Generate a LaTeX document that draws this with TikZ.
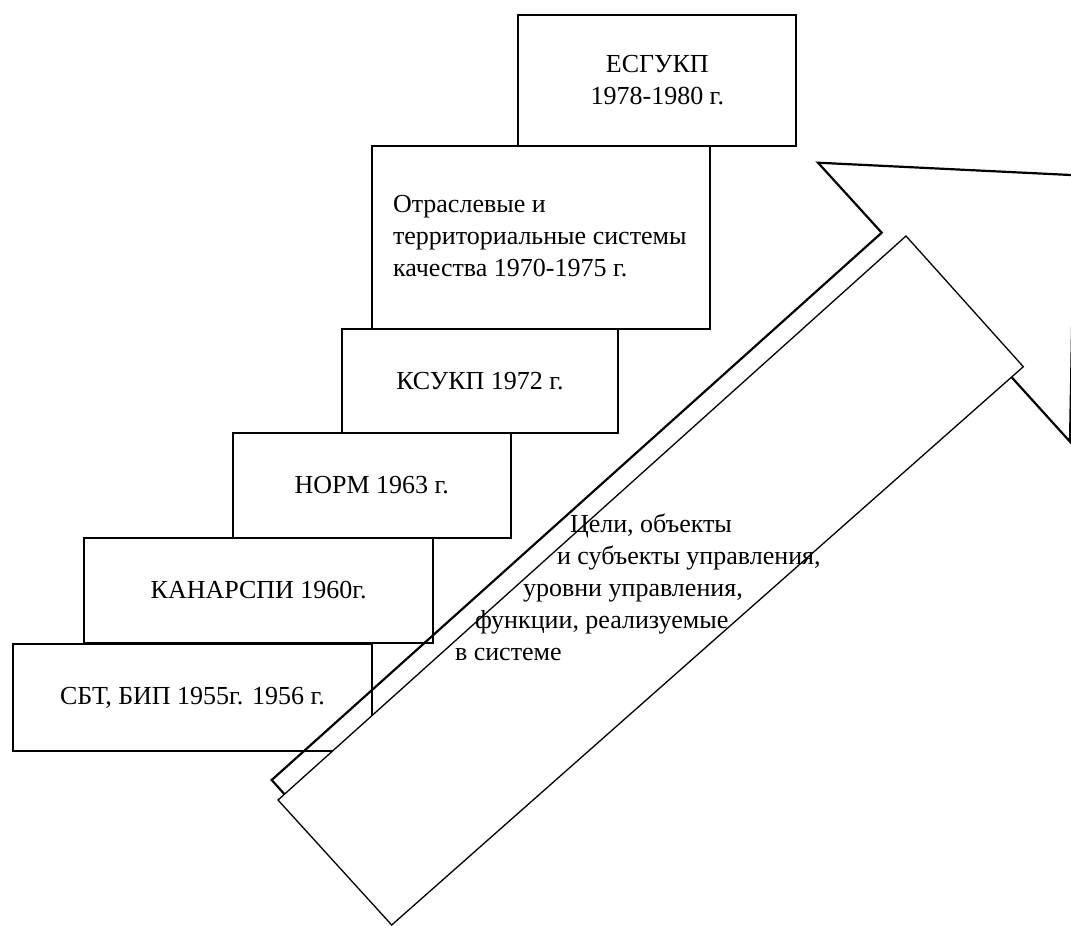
\documentclass[tikz,border=0pt]{standalone}
\usepackage{fontspec}
\setmainfont{Liberation Serif}
\newcommand{\diagfont}{\fontsize{26}{32}\selectfont}
\begin{document}
\begin{tikzpicture}[x=1pt,y=-1pt,
  stair/.style={draw=black, line width=1.9pt, inner sep=0pt, outer sep=0pt, anchor=north west, font=\diagfont, align=center},
  txt/.style={inner sep=0pt, outer sep=0pt, font=\diagfont},
  bigarrow/.style={draw=black, line width=2.2pt, line join=miter},
  band/.style={draw=black, fill=white, line width=1.3pt}]
\useasboundingbox (0,0) rectangle (1071,926);
\clip (0,0) rectangle (1071,926);

% steps
\node[stair, minimum width=358.4pt, minimum height=107pt] (b6) at (13.3,644) {СБТ, БИП 1955г. 1956 г.};
\node[stair, minimum width=348.6pt, minimum height=105.3pt] (b5) at (84.4,537.7) {КАНАРСПИ 1960г.};
\node[stair, minimum width=278pt, minimum height=104.7pt] (b4) at (232.7,433) {НОРМ 1963 г.};
\node[stair, minimum width=276pt, minimum height=103.7pt] (b3) at (342,329.3) {КСУКП 1972 г.};
\node[stair, minimum width=338pt, minimum height=183.3pt] (b2) at (372.3,146) {};
\node[stair, minimum width=278pt, minimum height=130.7pt] (b1) at (518.3,15) {ЕСГУКП\\1978-1980 г.};
\node[txt, anchor=north west, align=left] (t2) at (393,195.7) {Отраслевые и\\территориальные системы\\качества 1970-1975 г.};

% big arrow
\coordinate (p1) at (271.7,780);
\coordinate (p2) at (881.7,232.7);
\coordinate (p3) at (818,162.7);
\coordinate (tip) at (1074.8,175.2);
\coordinate (p5) at (1070,441.7);
\coordinate (p6) at (1011.7,377.3);
\coordinate (q) at (397.4,920);
\draw[bigarrow] (p6) -- (p5) -- (tip) -- (p3) -- (p2) -- (p1) -- (q);

% band
\coordinate (ra) at (278,800);
\coordinate (rb) at (906,236);
\coordinate (rc) at (1023.3,366.7);
\coordinate (rd) at (391.7,925);
\draw[band] (ra) -- (rb) -- (rc) -- (rd) -- cycle;

% text on the arrow
\node[txt, anchor=base west] (c1) at (570,532) {Цели, объекты};
\node[txt, anchor=base west] (c2) at (557,564) {и субъекты управления,};
\node[txt, anchor=base west] (c3) at (523,596) {уровни управления,};
\node[txt, anchor=base west] (c4) at (475,628) {функции, реализуемые};
\node[txt, anchor=base west] (c5) at (455,660) {в системе};
\end{tikzpicture}
\end{document}
